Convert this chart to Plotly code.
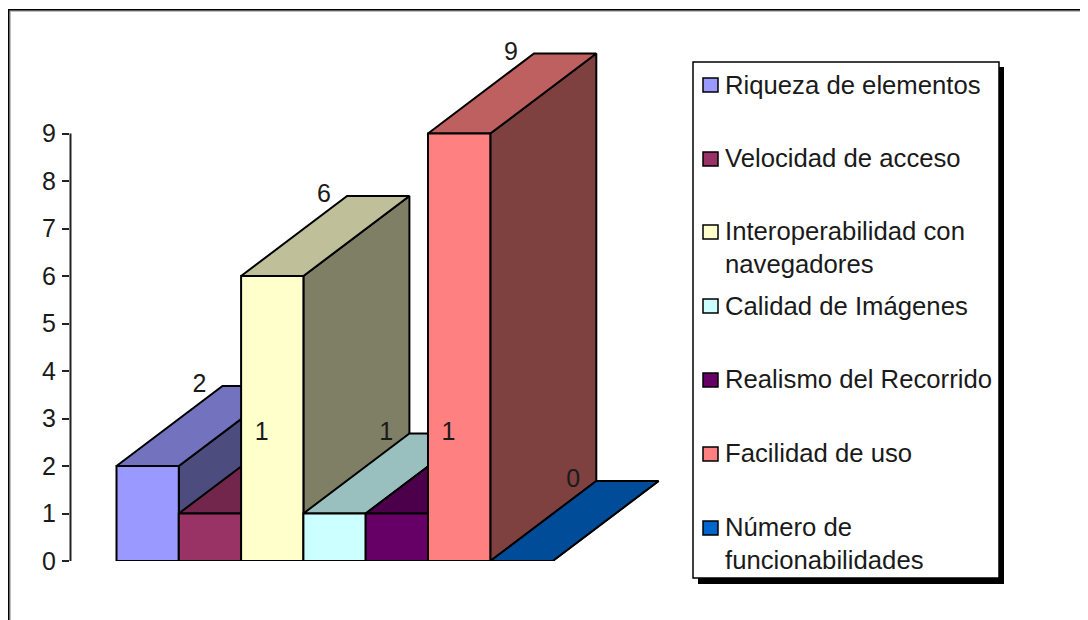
import plotly.graph_objects as go

categories = ["Riqueza de elementos", "Velocidad de acceso",
              "Interoperabilidad con<br>navegadores", "Calidad de Imágenes",
              "Realismo del Recorrido", "Facilidad de uso",
              "Número de<br>funcionabilidades"]
values = [2, 1, 6, 1, 1, 9, 0]
colors = ["#9999FF", "#993366", "#FFFFCC", "#CCFFFF", "#660066", "#FF8080", "#0066CC"]
y_ticks = [0, 1, 2, 3, 4, 5, 6, 7, 8, 9]

W, H = 1088, 620
PAGE_PAD = 8  # the page body sits 8px in from the window
FONT = "Liberation Sans"
INK = "#1a1a1a"

# plot area in window pixels, the y axis runs past 9 so the box tops are not clipped
LEFT, RIGHT, TOP, BOTTOM = 70, 670, 40, 561
BARS_START = 116.5
UNIT_X, UNIT_Y = 62.3, 47.5

# depth of the fake 3D box, in axis units
DEPTH_X = 106 / UNIT_X
DEPTH_Y = 80 / UNIT_Y


def shade(col, k):
    r, g, b = int(col[1:3], 16), int(col[3:5], 16), int(col[5:7], 16)
    return "rgb(%d,%d,%d)" % (r * k, g * k, b * k)


def face(xs, ys, col):
    return go.Scatter(x=xs, y=ys, mode="lines", fill="toself", fillcolor=col,
                      line=dict(color="#000000", width=2), cliponaxis=False,
                      hoverinfo="skip", showlegend=False)


# paper coordinates are relative to the plot area
def px(x):
    return (x - LEFT) / (RIGHT - LEFT)


def py(y):
    return (BOTTOM - y) / (BOTTOM - TOP)


fig = go.Figure()

# painted left to right so later bars cover the earlier ones
for i, (v, c) in enumerate(zip(values, colors)):
    l, r = i, i + 1
    dx, dy = DEPTH_X, DEPTH_Y
    fig.add_trace(face([r, r + dx, r + dx, r, r], [0, dy, v + dy, v, 0], shade(c, 0.5)))
    fig.add_trace(face([l, r, r + dx, l + dx, l], [v, v, v + dy, v + dy, v], shade(c, 0.75)))
    fig.add_trace(face([l, r, r, l, l], [0, 0, v, v, 0], c))

fig.add_trace(go.Scatter(
    x=[i + 1.33 for i in range(len(values))],
    y=[v + DEPTH_Y for v in values],
    mode="text", text=[str(v) for v in values], textposition="middle center",
    textfont=dict(family=FONT, size=25, color=INK),
    cliponaxis=False, hoverinfo="skip", showlegend=False))

shapes = []
annotations = []

# y axis spine stops at the last tick
shapes.append(dict(type="line", xref="paper", yref="y", x0=px(70.5), x1=px(70.5),
                   y0=y_ticks[0], y1=y_ticks[-1], line=dict(color="#222222", width=2)))

# chart frame, grey inner edge then black
shapes.append(dict(type="line", xref="paper", yref="paper", x0=px(10), x1=px(10),
                   y0=py(11), y1=py(H), line=dict(color="#AAAAAA", width=1.5)))
shapes.append(dict(type="line", xref="paper", yref="paper", x0=px(8.7), x1=px(W),
                   y0=py(11), y1=py(11), line=dict(color="#AAAAAA", width=1.5)))
shapes.append(dict(type="line", xref="paper", yref="paper", x0=px(8.7), x1=px(8.7),
                   y0=py(9.5), y1=py(H), line=dict(color="#000000", width=1.5)))
shapes.append(dict(type="line", xref="paper", yref="paper", x0=px(8), x1=px(W),
                   y0=py(9.7), y1=py(9.7), line=dict(color="#000000", width=1.5)))

# legend box with its shadow
shapes.append(dict(type="rect", xref="paper", yref="paper", x0=px(698), x1=px(1004),
                   y0=py(67), y1=py(584), fillcolor="#000000", line=dict(width=0)))
shapes.append(dict(type="rect", xref="paper", yref="paper", x0=px(693), x1=px(999),
                   y0=py(62), y1=py(578), fillcolor="#FFFFFF",
                   line=dict(color="#000000", width=1.5)))

swatch_y = [85, 159, 232, 306, 380, 454, 528]
text_y = [85, 158, 247.5, 306, 379, 453, 543.5]
for c, name, sy, ty in zip(colors, categories, swatch_y, text_y):
    shapes.append(dict(type="rect", xref="paper", yref="paper", x0=px(703), x1=px(718),
                       y0=py(sy - 7), y1=py(sy + 7), fillcolor=c,
                       line=dict(color="#000000", width=1.5)))
    annotations.append(dict(xref="paper", yref="paper", x=px(723), y=py(ty), text=name,
                            showarrow=False, xanchor="left", yanchor="middle", align="left",
                            font=dict(family=FONT, size=25.7, color=INK)))

fig.update_layout(
    width=W - PAGE_PAD, height=H - PAGE_PAD,
    margin=dict(l=LEFT - PAGE_PAD, r=W - RIGHT, t=TOP - PAGE_PAD, b=H - BOTTOM, pad=0),
    paper_bgcolor="#FFFFFF", plot_bgcolor="#FFFFFF",
    showlegend=False, shapes=shapes, annotations=annotations,
    xaxis=dict(range=[(LEFT - BARS_START) / UNIT_X, (RIGHT - BARS_START) / UNIT_X], visible=False),
    yaxis=dict(range=[0, (BOTTOM - TOP) / UNIT_Y], tickvals=y_ticks, showgrid=False,
               zeroline=False, showline=False,
               ticks="outside", ticklen=7, tickwidth=2, tickcolor="#222222",
               ticklabelstandoff=1,
               tickfont=dict(family=FONT, size=25, color=INK)),
)

fig.write_html("out.html")
